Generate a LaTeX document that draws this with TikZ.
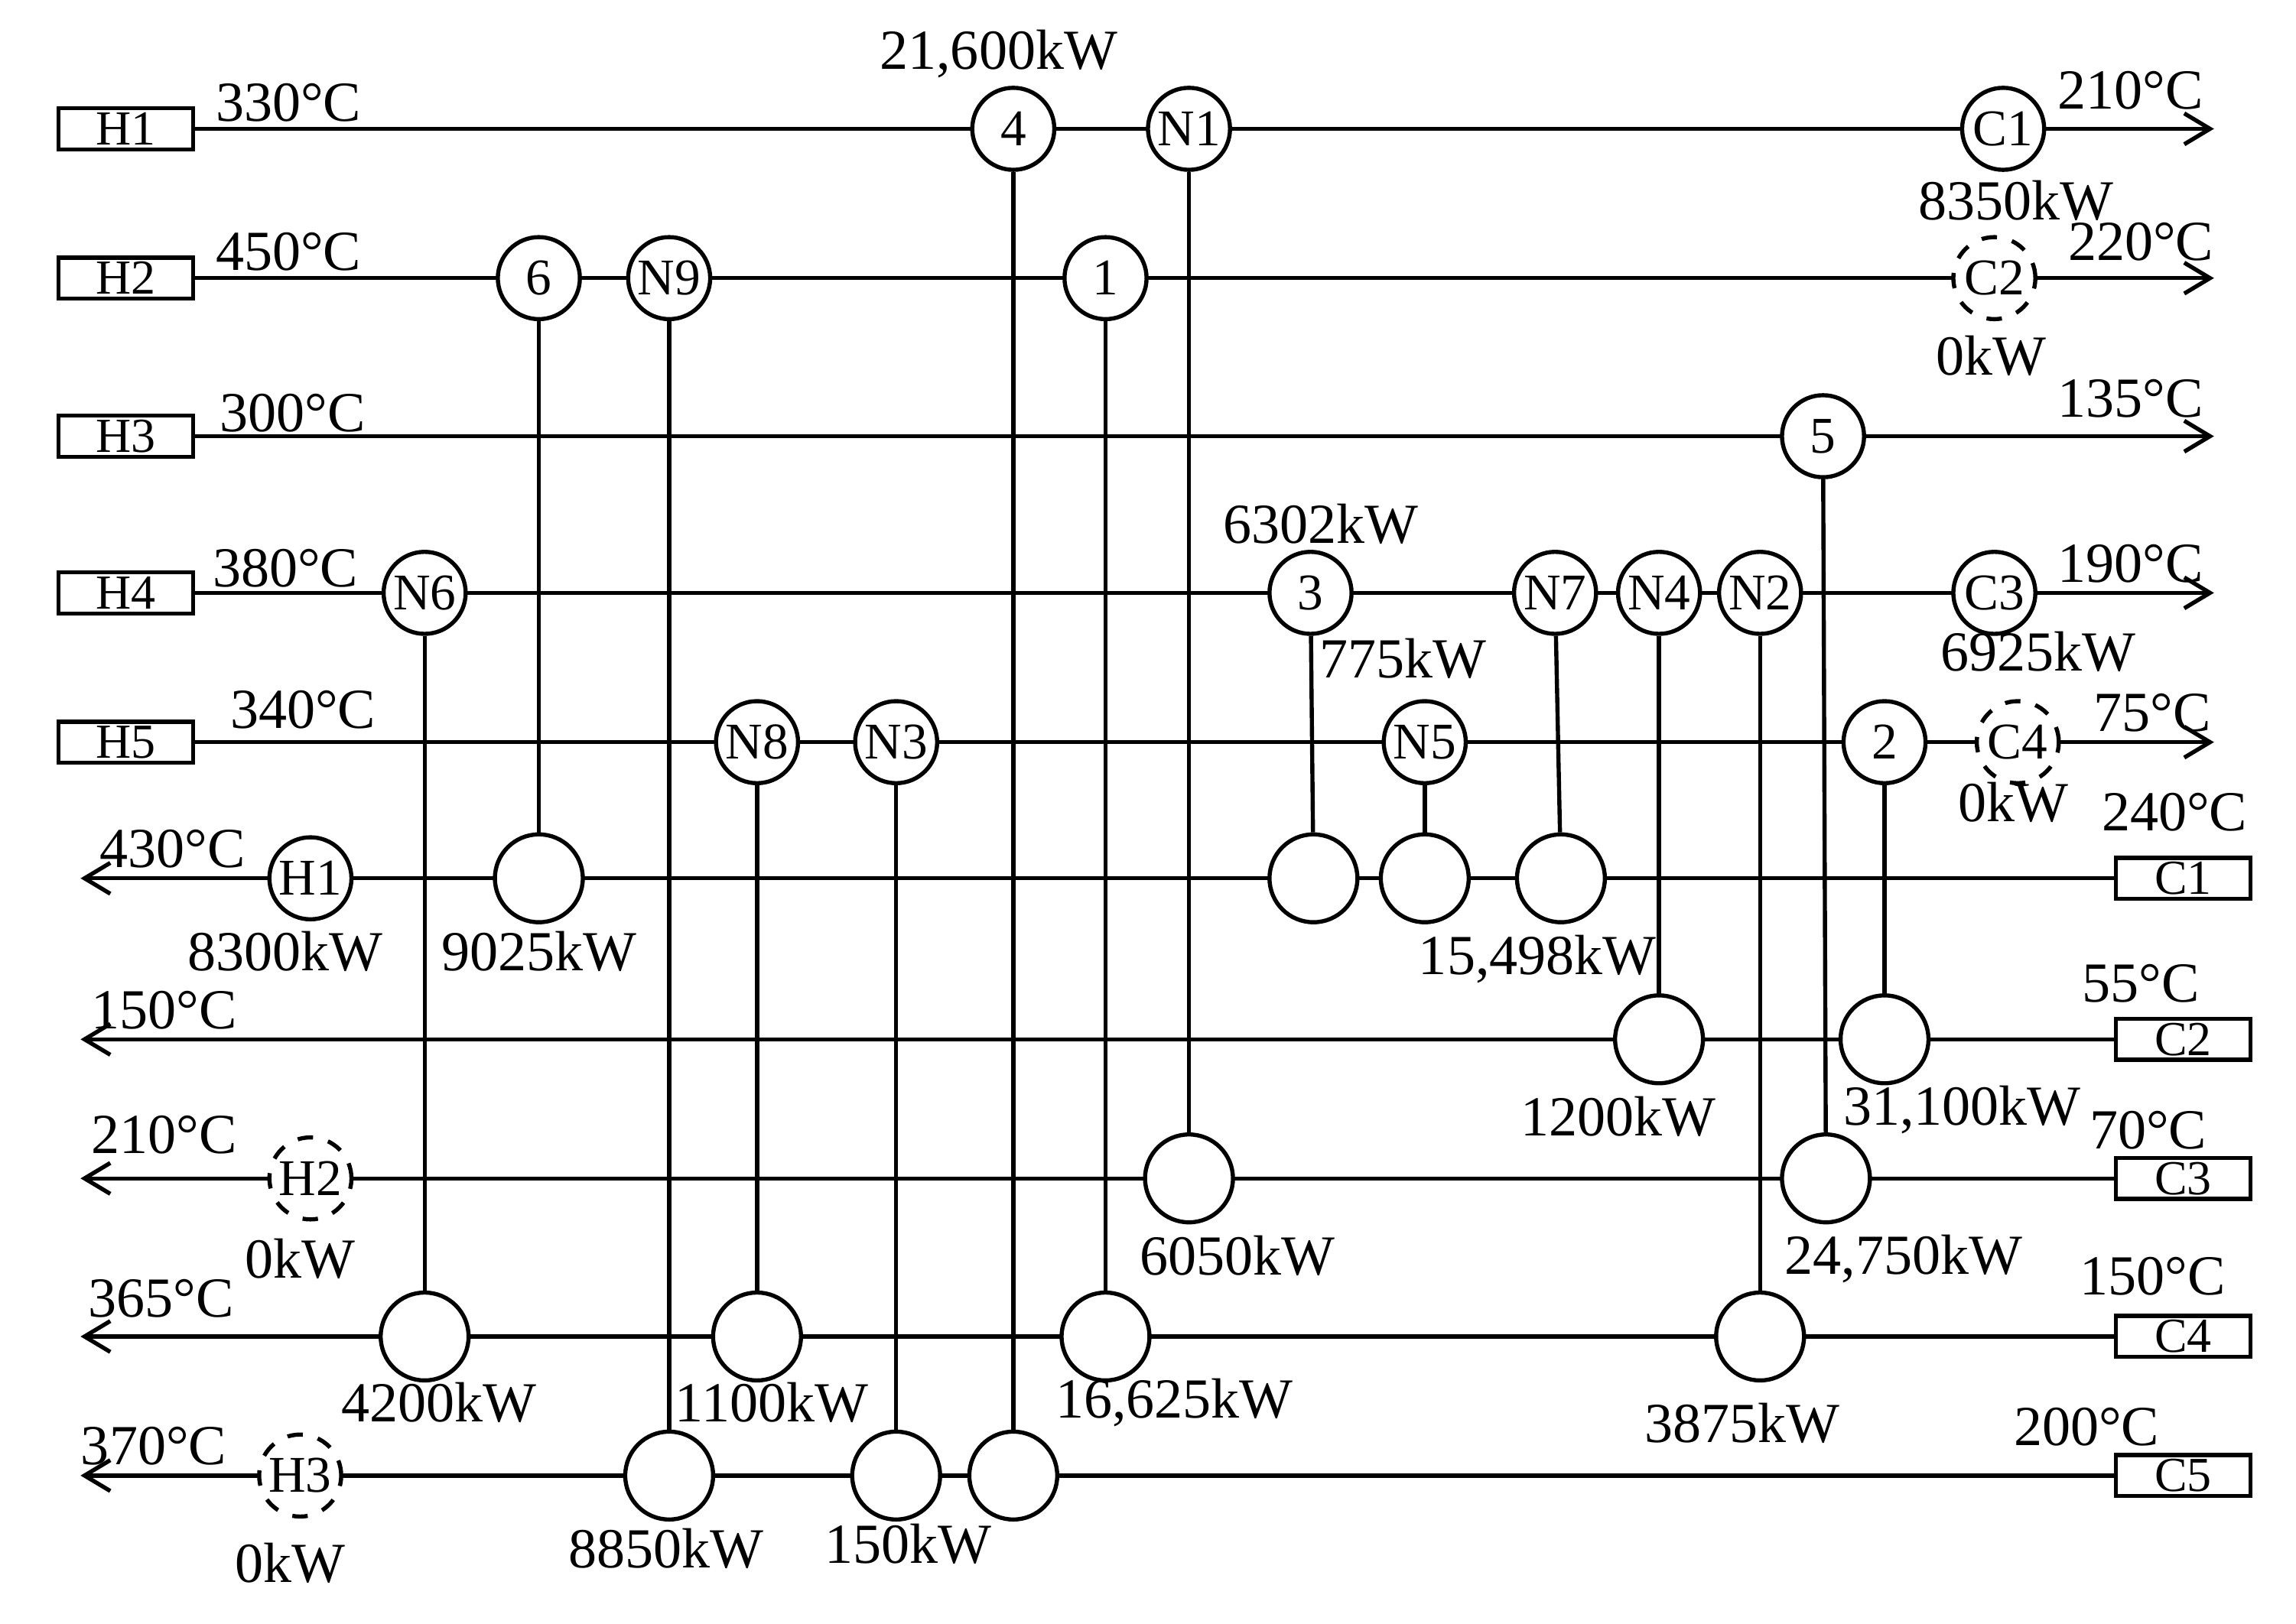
\documentclass[tikz,border=0pt]{standalone}
\usepackage{fontspec}
\setmainfont{Liberation Serif}
\usetikzlibrary{arrows.meta}
\begin{document}
\begin{tikzpicture}[x=0.01cm,y=-0.01cm,
  ln/.style={line width=0.8pt},
  arr/.style={ln,-{Straight Barb[length=5pt,width=6pt]}},
  sbox/.style={draw,line width=0.8pt,minimum width=0.92cm,minimum height=0.28cm,inner sep=0pt,font=\fontsize{9.5}{9.5}\selectfont},
  hx/.style={draw,circle,fill=white,line width=0.8pt,minimum size=0.56cm,inner sep=0pt,font=\fontsize{10}{10}\selectfont},
  cx/.style={draw,circle,fill=white,line width=0.8pt,minimum size=0.6cm,inner sep=0pt,font=\fontsize{10}{10}\selectfont},
  dsh/.style={dashed},
  lb/.style={font=\fontsize{11}{11}\selectfont,inner sep=0pt}]
\useasboundingbox (0,0) rectangle (1568,1109);
% hot stream boxes and lines
\foreach \n/\y in {H1/88,H2/190,H3/298,H4/405,H5/507}{
  \node[sbox] (b\n) at (86,\y) {\n};
  \coordinate (e\n) at (1512,\y);
  \draw[arr] (b\n) -- (e\n);}
\foreach \n/\y in {C1/600,C2/710,C3/805,C4/913,C5/1008}{
  \node[sbox] (b\n) at (1491,\y) {\n};
  \coordinate (e\n) at (55,\y);
  \draw[arr] (b\n) -- (e\n);}
% cold-stream exchangers (bottom end of matches)
\node[cx] (c4) at (692,1008) {};
\node[cx] (cN1) at (812,805) {};
\node[cx] (c6) at (368,600) {};
\node[cx] (cN9) at (457,1008) {};
\node[cx] (c1) at (755,913) {};
\node[cx] (c5) at (1247,805) {};
\node[cx] (cN6) at (290,913) {};
\node[cx] (c3) at (897,600) {};
\node[cx] (cN7) at (1066,600) {};
\node[cx] (cN4) at (1133,710) {};
\node[cx] (cN2) at (1202,913) {};
\node[cx] (cN8) at (517,913) {};
\node[cx] (cN3) at (612,1008) {};
\node[cx] (cN5) at (973,600) {};
\node[cx] (c2) at (1287,710) {};
% hot-stream exchangers
\node[hx] (h4) at (692,88) {4};
\node[hx] (hN1) at (812,88) {N1};
\node[hx] (h6) at (368,190) {6};
\node[hx] (hN9) at (457,190) {N9};
\node[hx] (h1) at (755,190) {1};
\node[hx] (h5) at (1245,298) {5};
\node[hx] (hN6) at (290,405) {N6};
\node[hx] (h3) at (895,405) {3};
\node[hx] (hN7) at (1062,405) {N7};
\node[hx] (hN4) at (1133,405) {N4};
\node[hx] (hN2) at (1202,405) {N2};
\node[hx] (hN8) at (517,507) {N8};
\node[hx] (hN3) at (612,507) {N3};
\node[hx] (hN5) at (973,507) {N5};
\node[hx] (h2) at (1287,507) {2};
% utilities
\node[hx] (uC1) at (1368,88) {C1};
\node[hx,dsh] (uC2) at (1362,190) {C2};
\node[hx] (uC3) at (1362,405) {C3};
\node[hx,dsh] (uC4) at (1378,507) {C4};
\node[hx] (uH1) at (212,600) {H1};
\node[hx,dsh] (uH2) at (212,805) {H2};
\node[hx,dsh] (uH3) at (205,1008) {H3};
% matches
\foreach \m in {4,N1,6,N9,1,5,N6,3,N7,N4,N2,N8,N3,N5,2}{
  \draw[ln] (h\m) -- (c\m);}
% labels
\foreach \t/\x/\y in {330°C/197/70,450°C/197/172,300°C/200/282,380°C/195/388,340°C/207/485,
 21{,}600kW/682/37,210°C/1455/62,8350kW/1377/137,220°C/1462/165,0kW/1360/243,135°C/1455/272,
 6302kW/902/358,190°C/1455/385,775kW/958/450,6925kW/1392/445,75°C/1470/487,0kW/1375/548,
 240°C/1485/555,430°C/118/580,8300kW/195/650,9025kW/368/650,15{,}498kW/1050/655,55°C/1462/672,
 150°C/112/690,1200kW/1105/763,31{,}100kW/1340/758,70°C/1467/772,210°C/112/775,0kW/205/860,
 6050kW/845/858,24{,}750kW/1300/860,150°C/1470/872,365°C/110/887,4200kW/300/958,1100kW/527/958,
 16{,}625kW/802/958,3875kW/1190/972,200°C/1425/975,370°C/105/988,0kW/198/1068,8850kW/455/1058,
 150kW/620/1055}{
  \node[lb] at (\x,\y) {\t};}
\end{tikzpicture}
\end{document}
